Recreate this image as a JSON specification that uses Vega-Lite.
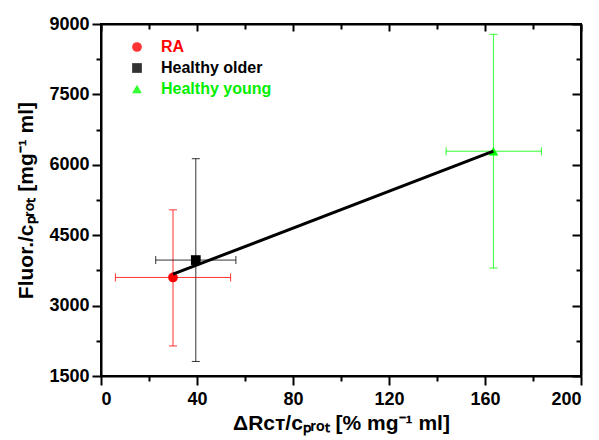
{
  "$schema": "https://vega.github.io/schema/vega-lite/v6.json",
  "width": 480,
  "height": 352,
  "autosize": "none",
  "padding": {"left": 101, "top": 24, "right": 18, "bottom": 64},
  "background": "white",
  "config": {
    "view": {"stroke": "black", "strokeWidth": 2},
    "font": "Liberation Sans",
    "axis": {
      "grid": false,
      "domainColor": "black",
      "domainWidth": 2,
      "tickColor": "black",
      "tickWidth": 2,
      "labelFont": "Liberation Sans",
      "labelFontWeight": "bold",
      "labelFontSize": 18,
      "labelColor": "black",
      "titleFont": "Liberation Sans",
      "titleFontWeight": "bold",
      "titleFontSize": 21,
      "titleColor": "black"
    }
  },
  "datasets": {
    "groups": [
      {"group": "RA", "x": 30, "y": 3600, "xlo": 6, "xhi": 54, "ylo": 2140, "yhi": 5040},
      {"group": "Healthy older", "x": 39.5, "y": 3970, "xlo": 22.8, "xhi": 56.2, "ylo": 1810, "yhi": 6130},
      {"group": "Healthy young", "x": 163.5, "y": 6290, "xlo": 143.8, "xhi": 183.5, "ylo": 3800, "yhi": 8780}
    ],
    "fit": [
      {"x": 30, "y": 3670},
      {"x": 163.5, "y": 6290}
    ]
  },
  "resolve": {"axis": {"x": "independent", "y": "independent"}},
  "layer": [
    {
      "data": {"name": "groups"},
      "mark": {"type": "rule", "strokeWidth": 1, "strokeOpacity": 0.8},
      "encoding": {
        "x": {"field": "x", "type": "quantitative", "scale": {"domain": [0, 200], "nice": false, "zero": false},
          "axis": {"orient": "bottom", "values": [0,20,40,60,80,100,120,140,160,180,200],
            "labelExpr": "datum.value % 40 === 0 ? datum.label : ''",
            "tickSize": {"condition": {"test": "datum.value % 40 !== 0", "value": 5}, "value": 9},
            "labelPadding": 5, "format": "d",
            "title": "ΔRᴄᴛ/cₚᵣₒₜ [% mg⁻¹ ml]", "titlePadding": 4}},
        "y": {"field": "ylo", "type": "quantitative", "scale": {"domain": [1500, 9000], "nice": false, "zero": false},
          "axis": {"orient": "left", "values": [1500,2250,3000,3750,4500,5250,6000,6750,7500,8250,9000],
            "labelExpr": "datum.value % 1500 === 0 ? datum.label : ''",
            "tickSize": {"condition": {"test": "datum.value % 1500 !== 0", "value": 5}, "value": 9},
            "labelPadding": 3, "format": "d",
            "title": "Fluor./cₚᵣₒₜ [mg⁻¹ ml]", "titlePadding": 12}},
        "y2": {"field": "yhi"},
        "color": {"field": "group", "type": "nominal",
          "scale": {"domain": ["RA", "Healthy older", "Healthy young"], "range": ["#ff0000", "#000000", "#00ff00"]},
          "legend": {"title": null, "orient": "none", "legendX": 28, "legendY": 15,
            "symbolSize": 95, "symbolStrokeWidth": 0, "symbolOpacity": 1, "symbolFillColor": null, "labelFontSize": 16, "labelFont": "Liberation Sans", "labelFontWeight": "bold",
            "labelOffset": 16, "rowPadding": 5,
            "labelColor": {"expr": "datum.value === 'RA' ? '#ff0000' : datum.value === 'Healthy young' ? '#00ee00' : '#000000'"}}}
      }
    },
    {
      "data": {"name": "groups"},
      "mark": {"type": "rule", "strokeWidth": 1, "strokeOpacity": 0.8},
      "encoding": {
        "x": {"field": "xlo", "type": "quantitative", "axis": null},
        "x2": {"field": "xhi"},
        "y": {"field": "y", "type": "quantitative", "axis": null},
        "color": {"field": "group", "type": "nominal"}
      }
    },
    {
      "data": {"name": "groups"},
      "mark": {"type": "tick", "orient": "horizontal", "size": 8, "thickness": 1, "opacity": 0.8},
      "encoding": {
        "x": {"field": "x", "type": "quantitative", "axis": null},
        "y": {"field": "ylo", "type": "quantitative", "axis": null},
        "color": {"field": "group", "type": "nominal"}
      }
    },
    {
      "data": {"name": "groups"},
      "mark": {"type": "tick", "orient": "horizontal", "size": 8, "thickness": 1, "opacity": 0.8},
      "encoding": {
        "x": {"field": "x", "type": "quantitative", "axis": null},
        "y": {"field": "yhi", "type": "quantitative", "axis": null},
        "color": {"field": "group", "type": "nominal"}
      }
    },
    {
      "data": {"name": "groups"},
      "mark": {"type": "tick", "orient": "vertical", "size": 8, "thickness": 1, "opacity": 0.8},
      "encoding": {
        "x": {"field": "xlo", "type": "quantitative", "axis": null},
        "y": {"field": "y", "type": "quantitative", "axis": null},
        "color": {"field": "group", "type": "nominal"}
      }
    },
    {
      "data": {"name": "groups"},
      "mark": {"type": "tick", "orient": "vertical", "size": 8, "thickness": 1, "opacity": 0.8},
      "encoding": {
        "x": {"field": "xhi", "type": "quantitative", "axis": null},
        "y": {"field": "y", "type": "quantitative", "axis": null},
        "color": {"field": "group", "type": "nominal"}
      }
    },
    {
      "data": {"name": "groups"},
      "mark": {"type": "point", "filled": true, "opacity": 1, "size": 95},
      "encoding": {
        "x": {"field": "x", "type": "quantitative", "axis": null},
        "y": {"field": "y", "type": "quantitative", "axis": null},
        "color": {"field": "group", "type": "nominal"},
        "shape": {"field": "group", "type": "nominal",
          "scale": {"domain": ["RA", "Healthy older", "Healthy young"], "range": ["circle", "square", "triangle-up"]},
          "legend": {"title": null}}
      }
    },
    {
      "data": {"name": "fit"},
      "mark": {"type": "line", "color": "black", "strokeWidth": 3},
      "encoding": {
        "x": {"field": "x", "type": "quantitative",
          "axis": {"orient": "top", "values": [0,20,40,60,80,100,120,140,160,180,200], "labels": false, "title": null,
            "tickSize": {"condition": {"test": "datum.value % 40 !== 0", "value": -5}, "value": -7}}},
        "y": {"field": "y", "type": "quantitative",
          "axis": {"orient": "right", "values": [1500,2250,3000,3750,4500,5250,6000,6750,7500,8250,9000], "labels": false, "title": null,
            "tickSize": {"condition": {"test": "datum.value % 1500 !== 0", "value": -5}, "value": -9}}}
      }
    }
  ]
}
